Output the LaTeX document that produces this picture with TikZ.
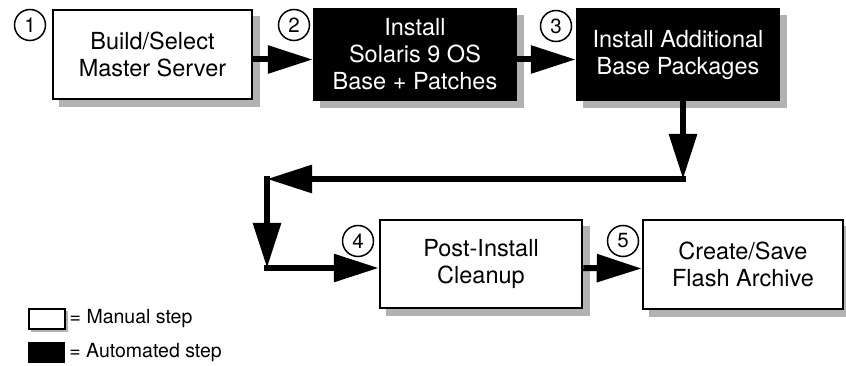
\documentclass[tikz,border=0pt]{standalone}
\usepackage{fontspec}
\setmainfont{TeX Gyre Heros}
\usetikzlibrary{arrows.meta,backgrounds}
\begin{document}
\begin{tikzpicture}[x=1pt,y=-1pt,
  manualbox/.style={draw=black, line width=2.5pt, fill=white, align=center, minimum width=199pt, minimum height=89pt, inner sep=0pt, font=\fontsize{23.5}{27}\selectfont},
  autobox/.style={manualbox, fill=black, text=white},
  num/.style={circle, draw, line width=1.5pt, minimum size=31pt, inner sep=0pt, font=\fontsize{20.5}{20.5}\selectfont},
  flow/.style={line width=6pt, -{Triangle[length=45pt,width=27pt]}},
  shadowc/.style={fill=black!30},
  legend/.style={anchor=west, inner sep=0pt, font=\fontsize{19.5}{22}\selectfont}
]
\useasboundingbox (0,0) rectangle (846,366);

% boxes
\node[manualbox] (b1) at (152.5,54.5) {Build/Select\\Master Server};
\node[autobox, minimum width=202pt, minimum height=91pt] (b2) at (415,54.5) {Install\\Solaris 9 OS\\Base + Patches};
\node[autobox, minimum width=202pt, minimum height=91pt] (b3) at (678,54.5) {Install Additional\\Base Packages};
\node[manualbox, minimum width=202pt, minimum height=88pt] (b4) at (481,264) {Post-Install\\Cleanup};
\node[manualbox, minimum width=200pt] (b5) at (743,264.5) {Create/Save\\Flash Archive};

% background and shadows
\begin{scope}[on background layer]
\fill[white] (0,0) rectangle (846,366);
\foreach \b in {b1,b2,b3,b4,b5}
  \fill[shadowc] ([shift={(7,7)}]\b.north west) rectangle ([shift={(7,7)}]\b.south east);
\end{scope}

% step numbers
\node[num] (n1) at (30,25) {1};
\node[num] (n2) at (294,25) {2};
\node[num] (n3) at (556,26) {3};
\node[num] (n4) at (358,241) {4};
\node[num] (n5) at (623,241) {5};

% connectors
\coordinate (c1) at (683,179);
\coordinate (c2) at (267,179);
\coordinate (c3) at (267,268);
\draw[flow] ([yshift=-5pt]b1.east) -- ([yshift=-5pt]b2.west);
\draw[flow] ([yshift=-5pt]b2.east) -- ([yshift=-5pt]b3.west);
\draw[flow] ([xshift=5pt]b3.south) -- (c1);
\draw[flow] ([xshift=3pt]c1) -- (c2);
\draw[flow] ([yshift=3pt]c2) -- (c3);
\draw[flow] ([xshift=-3pt]c3) -- (c3 -| b4.west);
\draw[flow] ([yshift=-4pt]b4.east) -- ([yshift=-4pt]b5.west);

% legend
\fill[shadowc] (31,311) rectangle (68,332);
\node[draw, line width=2pt, fill=white, minimum width=36pt, minimum height=20pt, inner sep=0pt] (lm) at (46.5,318.5) {};
\node[fill=black, minimum width=37pt, minimum height=21pt, inner sep=0pt] (la) at (46.5,352.5) {};
\node[legend] (tm) at ([xshift=4pt]lm.east) {= Manual step};
\node[legend] (ta) at ([xshift=4pt]la.east) {= Automated step};
\end{tikzpicture}
\end{document}
